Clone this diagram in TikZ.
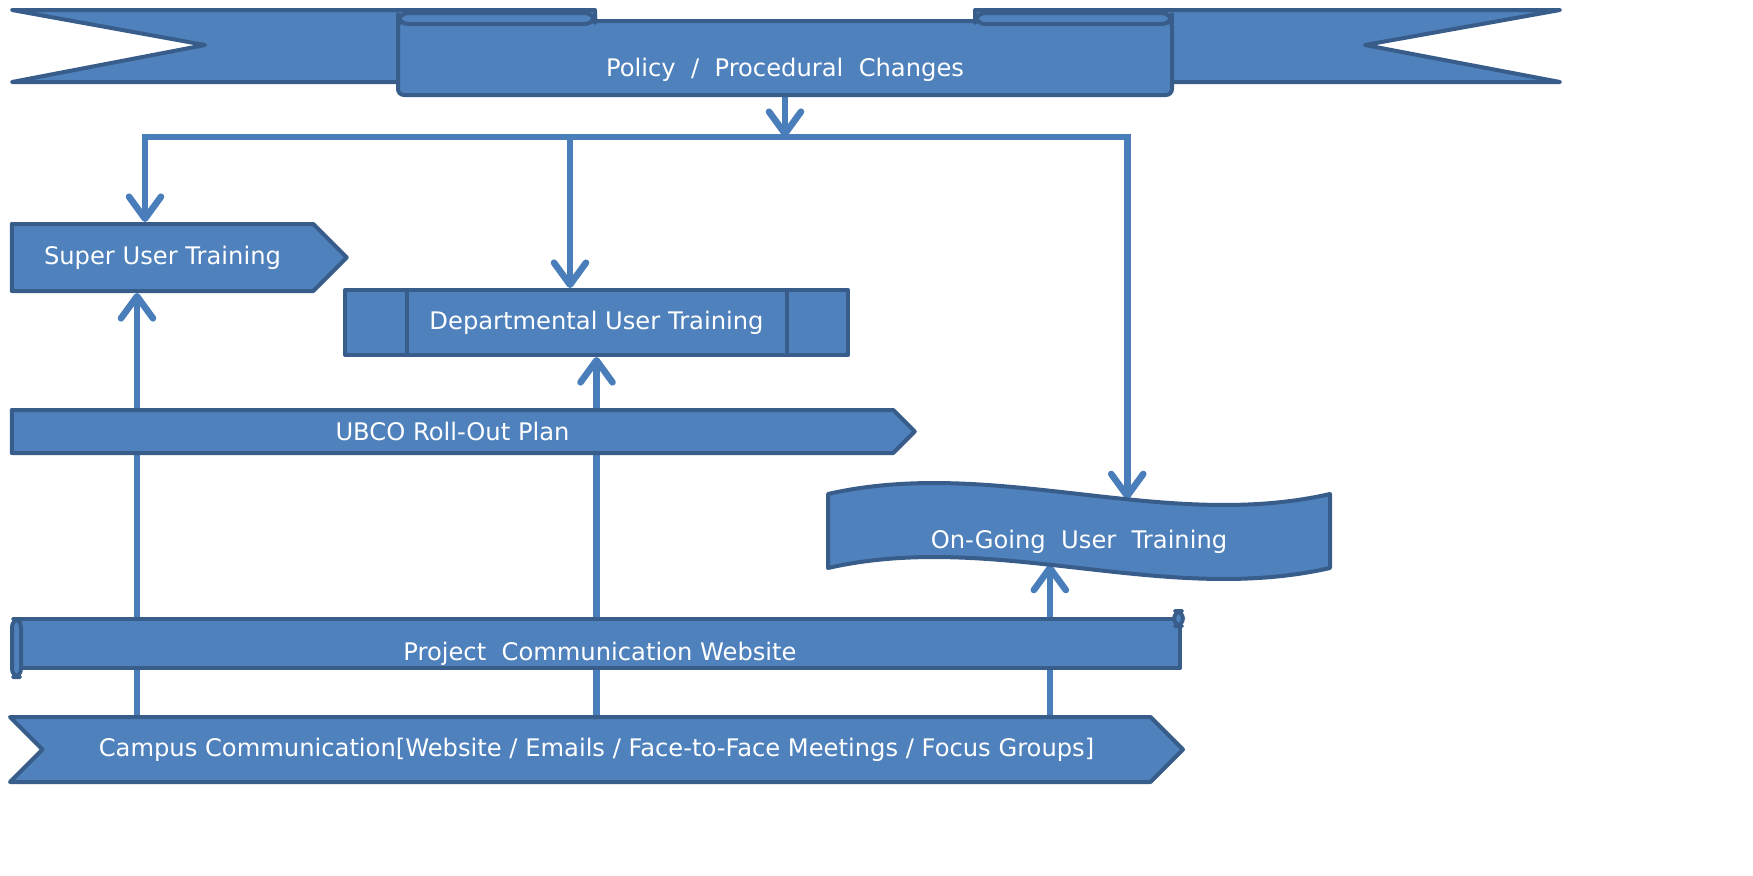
\documentclass[tikz,border=0pt]{standalone}
\usepackage{fontspec}
\setmainfont{DejaVu Sans}
\usetikzlibrary{shapes.symbols,arrows.meta,backgrounds}
\definecolor{boxfill}{HTML}{4F81BD}
\definecolor{boxline}{HTML}{385D8A}
\definecolor{linkcol}{HTML}{4A7EBB}

\begin{document}
\begin{tikzpicture}[x=0.5pt,y=-0.5pt,
    shape box/.style={draw=boxline,fill=boxfill,line width=2pt,line join=round,text=white,inner sep=0pt,font=\fontsize{12.1}{14}\selectfont},
    sig box/.style={shape box,signal,signal to=east,signal pointer angle=90},
    link/.style={draw=linkcol,line width=3.3pt},
    link arrow/.style={link,-{Straight Barb[length=11pt,width=16pt,round]}}]
    \useasboundingbox (0,0) rectangle (1753,875);
    % top ribbon
    \draw[shape box] (12,10) -- (595,10) -- (595,82) -- (12,82) -- (205,45) -- cycle;
    \draw[shape box] (1560,10) -- (975,10) -- (975,82) -- (1560,82) -- (1365,45) -- cycle;
    \node[shape box,rounded corners=3pt,minimum width=387pt,minimum height=37pt] (policy) at (785,58) {\raisebox{-9pt}[0pt][0pt]{Policy\ \ /\ \ Procedural\ \ Changes}};
    \draw[shape box,rounded corners=5pt] (398,13) rectangle (595,24);
    \draw[shape box,rounded corners=5pt] (975,13) rectangle (1172,24);
    % training boxes
    \node[sig box,minimum width=167.5pt,minimum height=33.5pt] (super) at (162.5,257.5) {Super User Training};
    \node[shape box,minimum width=251.5pt,minimum height=32.5pt] (dept) at (596.5,322.5) {Departmental User Training};
    \draw[boxline,line width=2pt] ([xshift=32pt]dept.north west) -- ([xshift=32pt]dept.south west);
    \draw[boxline,line width=2pt] ([xshift=-31.5pt]dept.north east) -- ([xshift=-31.5pt]dept.south east);
    \node[sig box,minimum width=451.5pt,minimum height=21.5pt] (ubco) at (452.5,431.5) {UBCO Roll-Out Plan};
    % on-going (wave)
    \draw[shape box] (828,494) .. controls (995,456) and (1163,532) .. (1330,494) coordinate[pos=0.596] (ongoingtop)
        -- (1330,568) .. controls (1163,606) and (995,530) .. (828,568) coordinate[pos=0.558] (ongoingbot) -- cycle;
    \node[shape box,draw=none,fill=none,minimum width=251pt,minimum height=37pt] (ongoing) at (1079,531) {\raisebox{-8.5pt}[0pt][0pt]{On-Going\ \ User\ \ Training}};
    % website scroll
    \node[shape box,minimum width=580pt,minimum height=24.5pt] (website) at (600,643.5) {\raisebox{-8.5pt}[0pt][0pt]{Project\ \ Communication Website}};
    \draw[shape box,rounded corners=4pt] (12,619) rectangle (21,677);
    \draw[shape box,rounded corners=4pt] (1174,611) rectangle (1183,626);
    % campus
    \node[sig box,signal from=west,minimum width=586.5pt,minimum height=32.5pt] (campus) at (596.5,749.5) {Campus Communication[Website / Emails / Face-to-Face Meetings / Focus Groups]};
    % connectors
    \begin{pgfonlayer}{background}
    \coordinate (hub) at (785,137);
    \draw[link arrow] (policy.south) -- (hub);
    \draw[link arrow] (hub) -| ([xshift=-8.75pt]super.north);
    \draw[link arrow] (hub) -| ([xshift=-13.25pt]dept.north);
    \draw[link arrow] (hub) -| (ongoingtop);
    \draw[link arrow] ([xshift=-12.75pt]super.south |- campus.north) -- ([xshift=-12.75pt]super.south);
    \draw[link arrow] (dept.south |- campus.north) -- (dept.south);
    \draw[link arrow] (ongoingbot |- campus.north) -- (ongoingbot);
    \end{pgfonlayer}
\end{tikzpicture}
\end{document}
